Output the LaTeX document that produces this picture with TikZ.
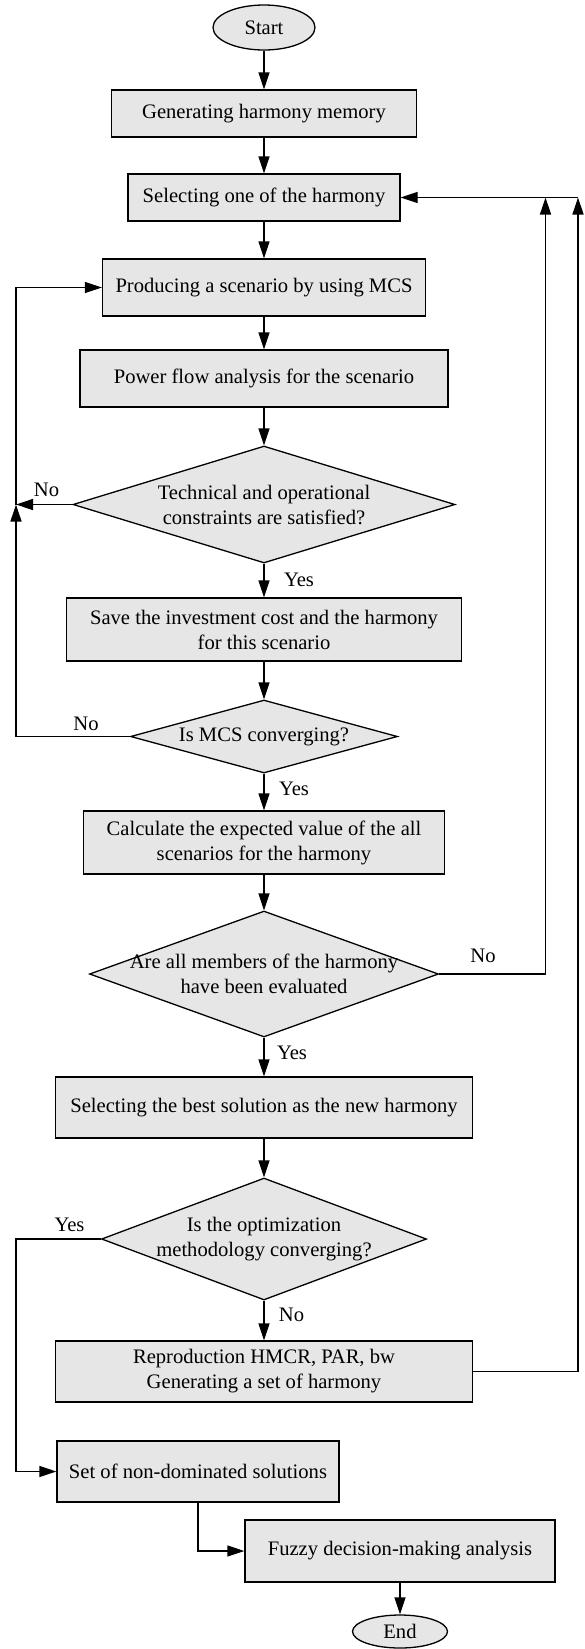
\documentclass[tikz,border=0pt]{standalone}
\usepackage{fontspec}
\setmainfont{Liberation Serif}
\usetikzlibrary{shapes.geometric,arrows.meta}
\definecolor{boxgray}{RGB}{230,230,230}
\tikzset{
 base/.style={font=\fontsize{20.6}{25}\selectfont},
 box/.style={base, draw, fill=boxgray, line width=1.3pt, align=center, inner sep=0pt},
 term/.style={base, ellipse, draw, fill=boxgray, line width=1.3pt, inner sep=0pt},
 dia/.style={diamond, draw, fill=boxgray, line width=1.3pt, inner sep=0pt},
 arr/.style={line width=1.3pt, -{Triangle[length=17pt,width=11pt]}},
 lab/.style={base, inner sep=0pt},
}
\begin{document}
\begin{tikzpicture}[x=1pt,y=-1pt]
\useasboundingbox (0,0) rectangle (584,1649);
\node[term, minimum width=102pt, minimum height=45pt] (start) at (264,27.5) {Start};
\node[box, minimum width=305pt, minimum height=47pt] (gen) at (264,113.5) {Generating harmony memory};
\node[box, minimum width=272pt, minimum height=47pt] (sel) at (264,197.5) {Selecting one of the harmony};
\node[box, minimum width=323pt, minimum height=57pt] (prod) at (264,287.5) {Producing a scenario by using MCS};
\node[box, minimum width=368pt, minimum height=57pt] (pf) at (264,378.5) {Power flow analysis for the scenario};
\node[dia, minimum width=382pt, minimum height=117pt,
  label={[base,align=center]center:Technical and operational\\constraints are satisfied?}] (d1) at (264,504.5) {};
\node[box, minimum width=395pt, minimum height=63pt] (save) at (264,629.5) {Save the investment cost and the harmony\\for this scenario};
\node[dia, minimum width=267pt, minimum height=73pt,
  label={[base,align=center]center:Is MCS converging?}] (d2) at (264,736.5) {};
\node[box, minimum width=361pt, minimum height=63pt] (calc) at (264,842.5) {Calculate the expected value of the all\\scenarios for the harmony};
\node[dia, minimum width=349pt, minimum height=126pt,
  label={[base,align=center]center:Are all members of the harmony\\have been evaluated}] (d3) at (264,974) {};
\node[box, minimum width=417pt, minimum height=61pt] (best) at (264,1107.5) {Selecting the best solution as the new harmony};
\node[dia, minimum width=325pt, minimum height=122pt,
  label={[base,align=center]center:Is the optimization\\methodology converging?}] (d4) at (264,1239) {};
\node[box, minimum width=417pt, minimum height=61pt] (repro) at (264,1371.5) {Reproduction HMCR, PAR, bw\\Generating a set of harmony};
\node[box, minimum width=282pt, minimum height=61pt] (nd) at (198,1471.5) {Set of non-dominated solutions};
\node[box, minimum width=310pt, minimum height=62pt] (fuzzy) at (400,1551) {Fuzzy decision-making analysis};
\node[term, minimum width=95pt, minimum height=33pt] (end) at (400,1631.5) {End};

\coordinate (j1) at (16,504.5);
\coordinate (j2) at (545.5,197.5);
\coordinate (j3) at (578,197.5);
\coordinate (j4) at (16,1239);

\draw[arr] (start) -- (gen);
\draw[arr] (gen) -- (sel);
\draw[arr] (sel) -- (prod);
\draw[arr] (prod) -- (pf);
\draw[arr] (pf) -- (d1);
\draw[arr] (d1) -- (save);
\draw[arr] (save) -- (d2);
\draw[arr] (d2) -- (calc);
\draw[arr] (calc) -- (d3);
\draw[arr] (d3) -- (best);
\draw[arr] (best) -- (d4);
\draw[arr] (d4) -- (repro);
\draw[arr] (fuzzy) -- (end);

\draw[arr] (d1.west) -- (j1);
\draw[arr] (d2.west) -| (j1);
\draw[arr] (j1) |- (prod.west);
\draw[arr] (d3.east) -| (j2);
\draw[arr] (repro.east) -| (j3);
\draw[arr] (j3) -- (sel.east);
\draw[arr] (d4.west) -- (j4) |- (nd.west);
\draw[arr] (nd.south) |- (fuzzy.west);

\node[lab] (l1) at (46.5,490) {No};
\node[lab] (l2) at (299,580) {Yes};
\node[lab] (l3) at (86,723.5) {No};
\node[lab] (l4) at (294,789) {Yes};
\node[lab] (l5) at (483,955.5) {No};
\node[lab] (l6) at (292,1053) {Yes};
\node[lab] (l7) at (69.5,1225) {Yes};
\node[lab] (l8) at (291.5,1315) {No};
\end{tikzpicture}
\end{document}
